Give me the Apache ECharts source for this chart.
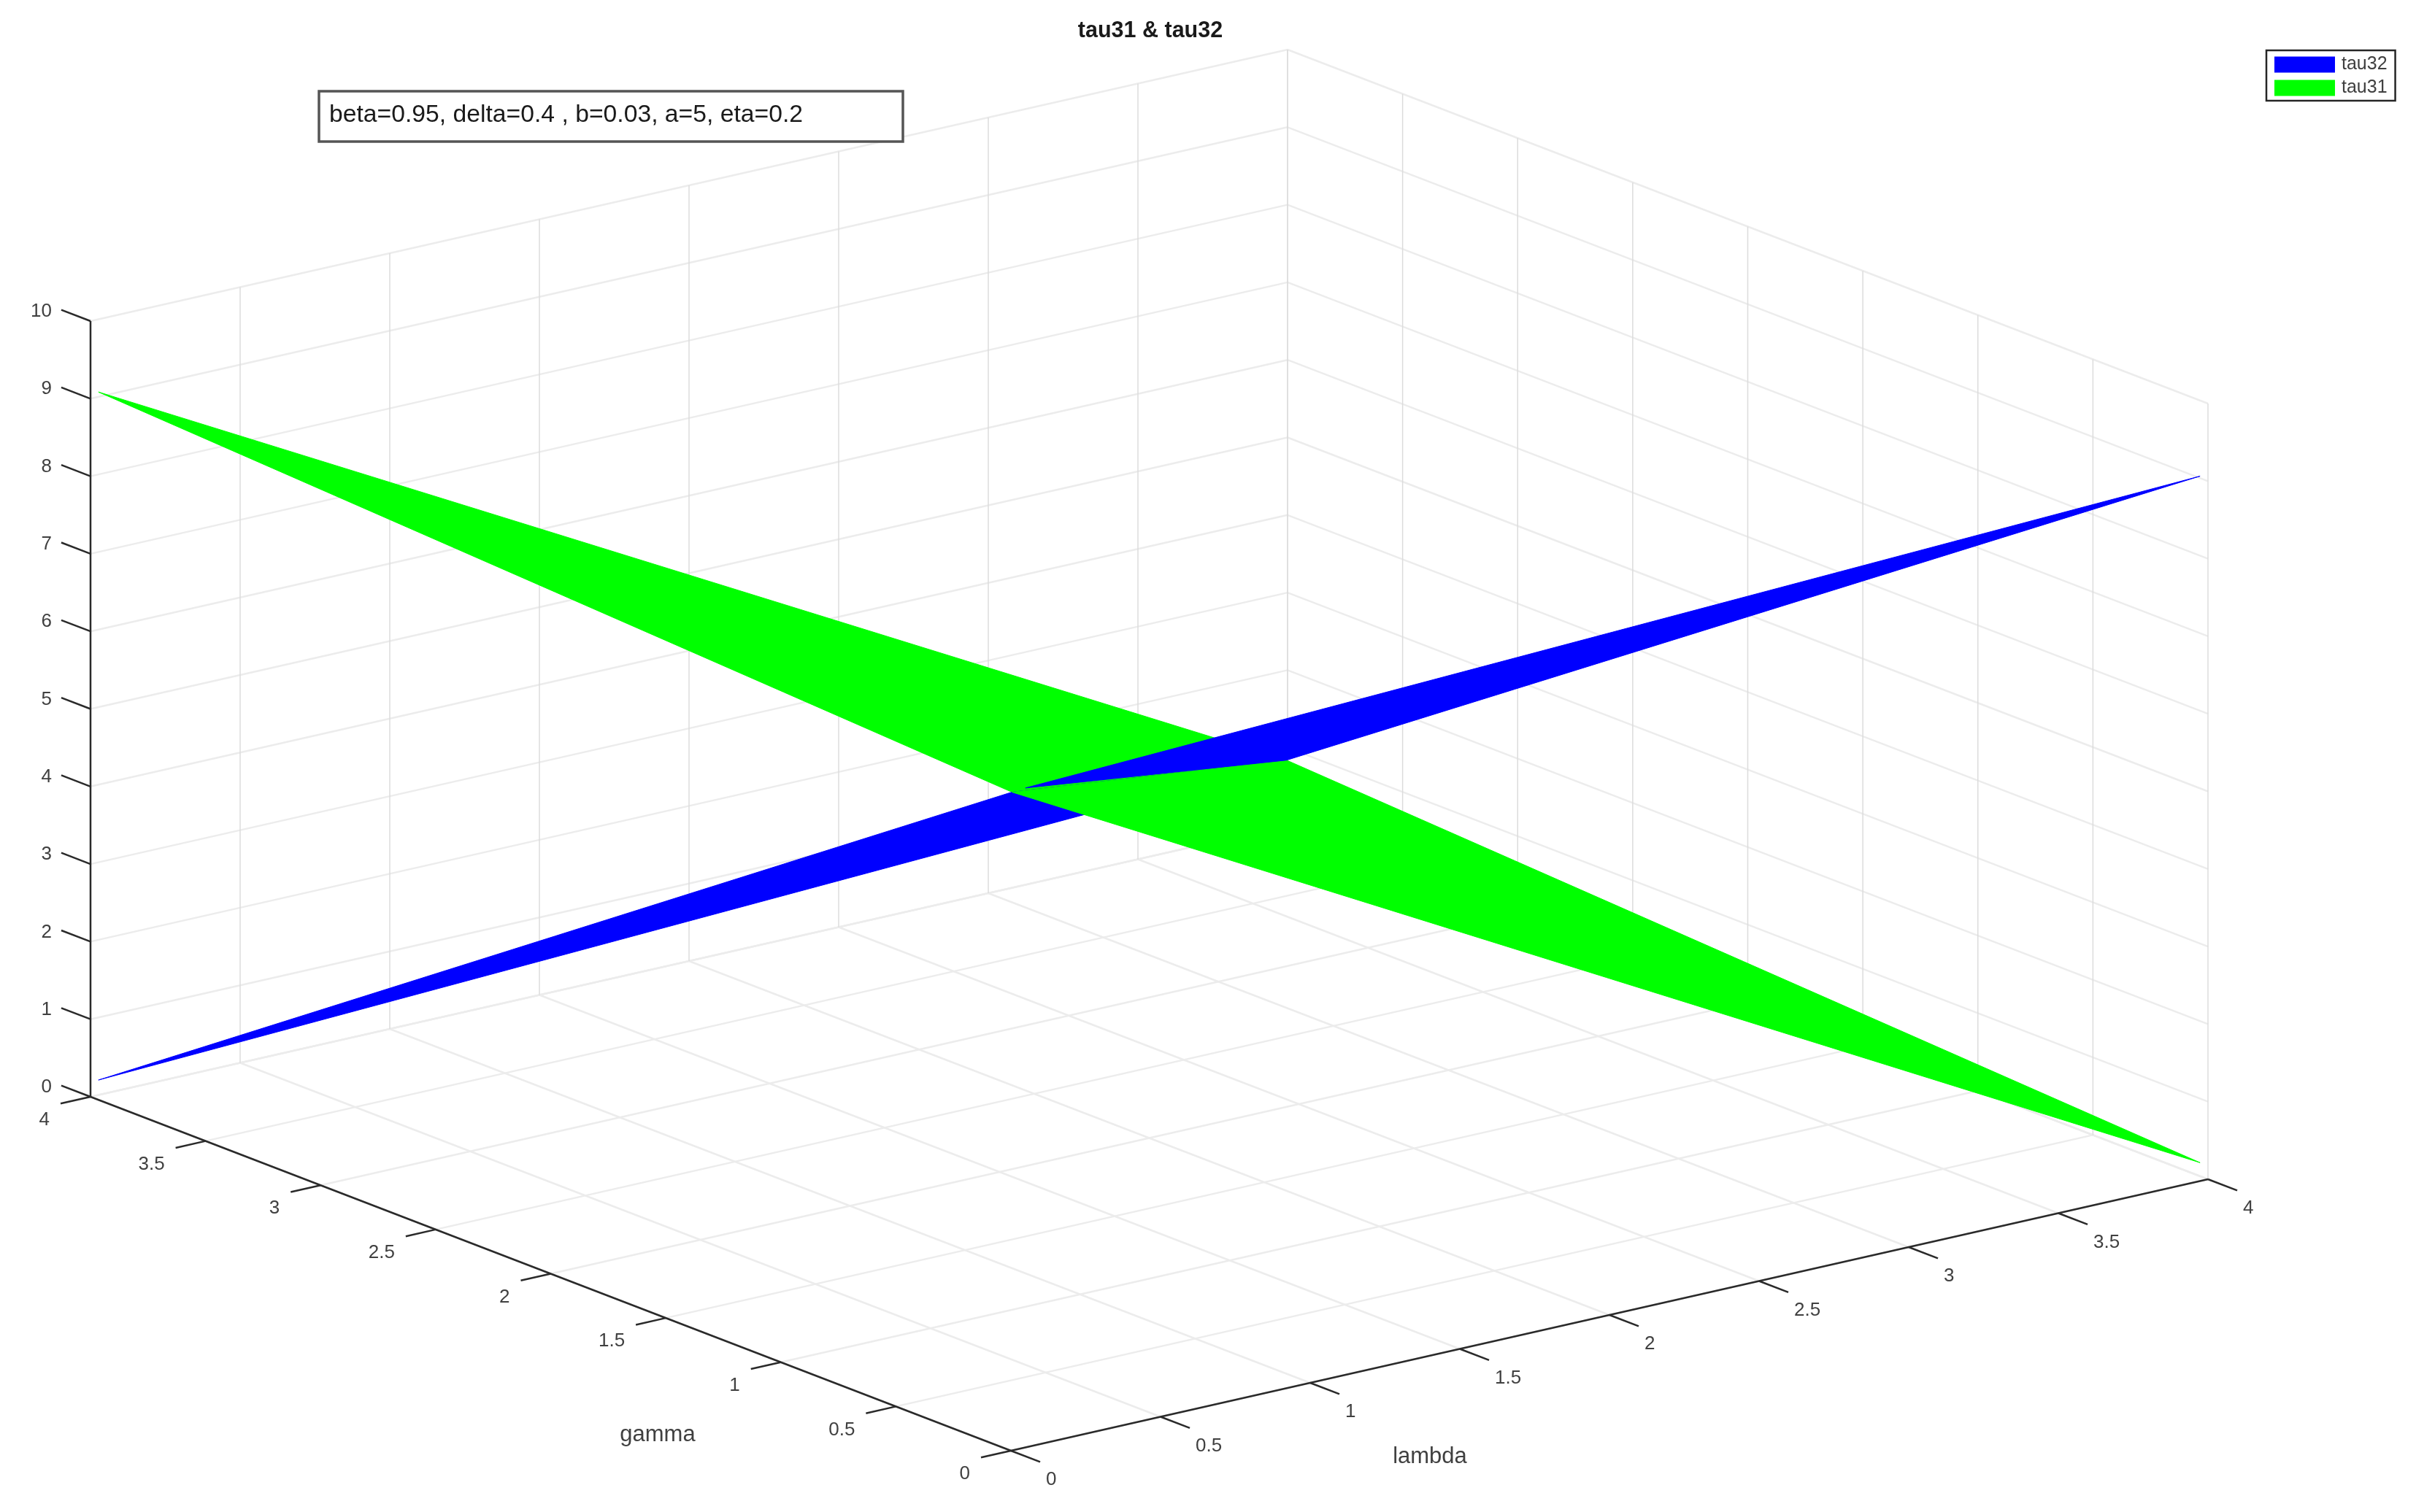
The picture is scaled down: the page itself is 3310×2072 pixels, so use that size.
<!DOCTYPE html>
<html>
<head>
<meta charset="utf-8">
<style>html,body{margin:0;padding:0;background:#fff}#chart{width:3310px;height:2072px}</style>
<script src="https://cdn.jsdelivr.net/npm/echarts@6/dist/echarts.min.js"></script>
</head>
<body>
<div id="chart"></div>
<script>
// ---- Data ----
var chartTitle = 'tau31 & tau32';
var noteText = 'beta=0.95, delta=0.4 , b=0.03, a=5, eta=0.2';
var lambdaTicks = [0, 0.5, 1, 1.5, 2, 2.5, 3, 3.5, 4];
var gammaTicks = [0, 0.5, 1, 1.5, 2, 2.5, 3, 3.5, 4];
var zTicks = [0, 1, 2, 3, 4, 5, 6, 7, 8, 9, 10];
// surface grid nodes and heights: tau[lambda index][gamma index]
var lambdaNodes = [0.015, 3.985];
var gammaNodes = [0.015, 3.985];
var tau31 = [[8.46, 9.09], [0.21, 0.87]];
var tau32 = [[8.46, 0.22], [9.06, 0.87]];
// where tau32 emerges above tau31 near the low corner: [lambda, gamma, height]
var tau32Emerges = [0.21, 0.21, 8.12];

// ---- Orthographic view of the 3D box, on a page-sized value plane ----
function project(l, g, z) {
  return [1385 + 410 * l - 315.25 * g, 1988 - 93 * l - 121.25 * g - 106.3 * z];
}
var FONT = '"Liberation Sans", Arial, sans-serif';
var TEXT = '#404040';

function segmentSeries(rows, color, width, seriesZ) {
  return {
    type: 'custom', coordinateSystem: 'cartesian2d', silent: true, clip: false, z: seriesZ,
    animation: false, data: rows,
    renderItem: function (params, api) {
      var a = api.coord(project(api.value(0), api.value(1), api.value(2)));
      var b = api.coord(project(api.value(3), api.value(4), api.value(5)));
      return { type: 'line', shape: { x1: a[0], y1: a[1], x2: b[0], y2: b[1] },
        style: { stroke: color, lineWidth: width, fill: null } };
    }
  };
}

function labelSeries(rows, labels, align, dx, dy) {
  return {
    type: 'custom', coordinateSystem: 'cartesian2d', silent: true, clip: false, z: 6,
    animation: false, data: rows,
    renderItem: function (params, api) {
      var p = api.coord(project(api.value(0), api.value(1), api.value(2)));
      return { type: 'text', x: p[0] + dx, y: p[1] + dy,
        style: { text: labels[params.dataIndex], fill: TEXT, font: '26px ' + FONT,
                 textAlign: align, textVerticalAlign: 'middle' } };
    }
  };
}

function nodePoint(tau, n) {
  return [lambdaNodes[n[0]], gammaNodes[n[1]], tau[n[0]][n[1]]];
}

function triangleSeries(name, color, a, b, c, seriesZ) {
  return {
    name: name, type: 'custom', coordinateSystem: 'cartesian2d', silent: true, clip: false,
    z: seriesZ, animation: false, itemStyle: { color: color }, data: [a.concat(b, c)],
    renderItem: function (params, api) {
      var pts = [0, 3, 6].map(function (i) {
        return api.coord(project(api.value(i), api.value(i + 1), api.value(i + 2)));
      });
      return { type: 'polygon', shape: { points: pts },
        style: { fill: color, stroke: color, lineWidth: 1 } };
    }
  };
}

// ---- Build grid and axis rows from the tick arrays ----
var LMAX = lambdaTicks[lambdaTicks.length - 1], GMAX = gammaTicks[gammaTicks.length - 1], ZMAX = zTicks[zTicks.length - 1];
var planeRows = [], uprightRows = [];
lambdaTicks.forEach(function (l) {
  planeRows.push([l, 0, 0, l, GMAX, 0]);              // floor
  uprightRows.push([l, GMAX, 0, l, GMAX, ZMAX]);      // back-left wall
});
gammaTicks.forEach(function (g) {
  planeRows.push([0, g, 0, LMAX, g, 0]);              // floor
  uprightRows.push([LMAX, g, 0, LMAX, g, ZMAX]);      // back-right wall
});
zTicks.forEach(function (z) {
  planeRows.push([0, GMAX, z, LMAX, GMAX, z]);
  planeRows.push([LMAX, GMAX, z, LMAX, 0, z]);
});
var axisRows = [
  [0, GMAX, 0, 0, GMAX, ZMAX],
  [0, 0, 0, 0, GMAX, 0],
  [0, 0, 0, LMAX, 0, 0]
];
var TICK = 0.1;                                     // tick length, fraction of an axis unit
lambdaTicks.forEach(function (l) { axisRows.push([l, 0, 0, l, -TICK * 1.27, 0]); });
gammaTicks.forEach(function (g) { axisRows.push([0, g, 0, -TICK, g, 0]); });
zTicks.forEach(function (z) { axisRows.push([0, GMAX, z, 0, GMAX + TICK * 1.27, z]); });

var series = [
  segmentSeries(planeRows, '#ececec', 2.5, 1),
  segmentSeries(uprightRows, '#dcdcdc', 1.5, 1),
  triangleSeries('tau31', '#00ff00', nodePoint(tau31, [0, 1]), nodePoint(tau31, [0, 0]), nodePoint(tau31, [1, 1]), 2),
  triangleSeries('tau32', '#0000ff', nodePoint(tau32, [0, 1]), nodePoint(tau32, [0, 0]), nodePoint(tau32, [1, 1]), 3),
  triangleSeries('tau31', '#00ff00', nodePoint(tau31, [1, 0]), nodePoint(tau31, [0, 0]), nodePoint(tau31, [1, 1]), 4),
  triangleSeries('tau32', '#0000ff', nodePoint(tau32, [1, 0]), tau32Emerges, nodePoint(tau32, [1, 1]), 5),
  segmentSeries(axisRows, '#2a2a2a', 2.5, 6),
  labelSeries(lambdaTicks.map(function (l) { return [l, 0, 0]; }), lambdaTicks.map(String), 'left', 48, 40),
  labelSeries(gammaTicks.map(function (g) { return [0, g, 0]; }), gammaTicks.map(String), 'right', -56, 32),
  labelSeries(zTicks.map(function (z) { return [0, GMAX, z]; }), zTicks.map(String), 'right', -53, -13)
];

var chart = echarts.init(document.getElementById('chart'), null, { renderer: 'canvas' });
chart.setOption({
  backgroundColor: '#ffffff',
  animation: false,
  title: {
    text: chartTitle, left: 1571, top: 22, textAlign: 'center',
    textStyle: { fontFamily: FONT, fontSize: 30.5, fontWeight: 'bold', color: '#1a1a1a' }
  },
  legend: {
    data: ['tau32', 'tau31'], orient: 'vertical', left: 3105, top: 69, selectedMode: false,
    icon: 'rect', itemWidth: 83, itemHeight: 22, itemGap: 7, padding: [7, 11, 5, 11],
    borderColor: '#262626', borderWidth: 2.5, backgroundColor: '#ffffff',
    textStyle: { fontFamily: FONT, fontSize: 25, color: TEXT, lineHeight: 22, padding: [0, 0, 0, 4] }
  },
  grid: { left: 0, right: 0, top: 0, bottom: 0 },
  xAxis: { type: 'value', min: 0, max: 3310, show: false },
  yAxis: { type: 'value', min: 0, max: 2072, inverse: true, show: false },
  series: series,
  graphic: [
    { type: 'rect', z: 20, silent: true, shape: { x: 437, y: 125, width: 800, height: 69 },
      style: { fill: '#ffffff', stroke: '#555555', lineWidth: 3.5 } },
    { type: 'text', z: 21, silent: true, x: 451, y: 158,
      style: { text: noteText, fill: '#1a1a1a', font: '33.7px ' + FONT, textVerticalAlign: 'middle' } },
    { type: 'text', z: 21, silent: true, x: 901, y: 1966,
      style: { text: 'gamma', fill: TEXT, font: '31px ' + FONT, textAlign: 'center', textVerticalAlign: 'middle' } },
    { type: 'text', z: 21, silent: true, x: 1959, y: 1996,
      style: { text: 'lambda', fill: TEXT, font: '31px ' + FONT, textAlign: 'center', textVerticalAlign: 'middle' } }
  ]
});
</script>
</body>
</html>
